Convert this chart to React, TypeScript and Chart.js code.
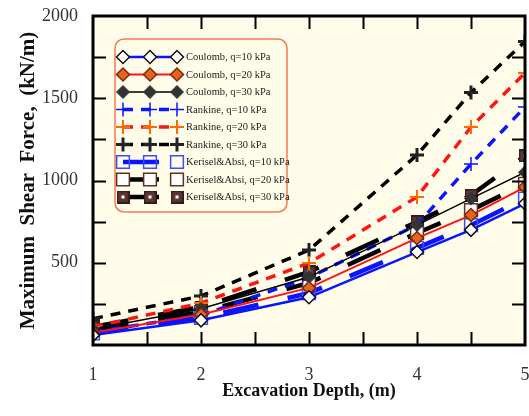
import React, { useEffect, useRef } from 'react';
import { Chart, registerables } from 'chart.js';
import { drawPoint } from 'chart.js/helpers';

Chart.register(...registerables);

// ---- data ----
const depths = [1, 2, 3, 4, 4.5, 5];
const coulomb10 = [60, 150, 290, 565, 700, 860];
const coulomb20 = [75, 185, 347, 650, 790, 960];
const coulomb30 = [95, 220, 413, 729, 890, 1050];
const rankine10 = [80, 180, 410, 730, 1100, 1447];
const rankine20 = [110, 255, 498, 900, 1325, 1653];
const rankine30 = [160, 298, 577, 1155, 1535, 1845];
const kerisel10 = [70, 165, 316, 590, 729, 890];
const kerisel20 = [90, 200, 377, 681, 820, 980];
const kerisel30 = [110, 230, 444, 748, 910, 1150];

const seriesLabels = [
  'Coulomb, q=10 kPa',
  'Coulomb, q=20 kPa',
  'Coulomb, q=30 kPa',
  'Rankine, q=10 kPa',
  'Rankine, q=20 kPa',
  'Rankine, q=30 kPa',
  'Kerisel&Absi, q=10 kPa',
  'Kerisel&Absi, q=20 kPa',
  'Kerisel&Absi, q=30 kPa',
];
const xLabelValues = [1, 2, 3, 4, 5];
const yLabelValues = [500, 1000, 1500, 2000];
const xTitle = 'Excavation Depth, (m)';
const yTitle = 'Maximum  Shear  Force,  (kN/m)';

function makeDarkSquare(): HTMLCanvasElement {
  const c = document.createElement('canvas');
  c.width = 13;
  c.height = 13;
  const g = c.getContext('2d')!;
  g.fillStyle = '#2e1a1a';
  g.fillRect(0, 0, 13, 13);
  g.fillStyle = '#5e3636';
  g.fillRect(1.5, 1.5, 10, 10);
  g.fillStyle = '#ffffff';
  g.fillRect(5, 5, 3, 3);
  return c;
}

const toPts = (arr: number[]) => arr.map((v, i) => ({ x: depths[i], y: v }));

const BLUE = '#0a14ff';
const RED = '#ff1414';
const BLACK = '#000000';

const bgPlugin = {
  id: 'bgPlugin',
  beforeDraw(chart: any) {
    const { ctx, chartArea } = chart;
    ctx.save();
    ctx.fillStyle = '#ffffff';
    ctx.fillRect(0, 0, chart.width, chart.height);
    ctx.fillStyle = '#fffde9';
    ctx.fillRect(chartArea.left, chartArea.top, chartArea.right - chartArea.left, chartArea.bottom - chartArea.top);
    ctx.restore();
  },
};

const framePlugin = {
  id: 'framePlugin',
  afterDraw(chart: any) {
    const { ctx, chartArea } = chart;
    const { left, right, top, bottom } = chartArea;
    const xs = chart.scales.x;
    const ys = chart.scales.y;
    ctx.save();
    ctx.strokeStyle = '#000';
    ctx.lineWidth = 2;
    const tl = 13;
    for (let v = 1.5; v < 5; v += 0.5) {
      const px = Math.round(xs.getPixelForValue(v)) + 0.5;
      ctx.beginPath();
      ctx.moveTo(px, bottom);
      ctx.lineTo(px, bottom - tl);
      ctx.moveTo(px, top);
      ctx.lineTo(px, top + tl);
      ctx.stroke();
    }
    for (let v = 250; v < 2000; v += 250) {
      const py = Math.round(ys.getPixelForValue(v)) + 0.5;
      ctx.beginPath();
      ctx.moveTo(left, py);
      ctx.lineTo(left + tl, py);
      ctx.moveTo(right, py);
      ctx.lineTo(right - tl, py);
      ctx.stroke();
    }
    ctx.lineWidth = 3;
    ctx.strokeRect(left, top, right - left, bottom - top);
    ctx.restore();
  },
};

const legendPlugin = {
  id: 'customLegend',
  afterDraw(chart: any) {
    const { ctx } = chart;
    ctx.save();
    const bx = 115, by = 39, bw = 172, bh = 173;
    ctx.beginPath();
    ctx.roundRect(bx, by, bw, bh, 9);
    ctx.fillStyle = '#fffde9';
    ctx.fill();
    ctx.lineWidth = 1.5;
    ctx.strokeStyle = '#f57a52';
    ctx.stroke();

    const xs = [123, 150, 177];
    const y0 = 57;
    const dy = 17.5;
    chart.data.datasets.forEach((ds: any, i: number) => {
      const y = y0 + i * dy;
      ctx.save();
      ctx.strokeStyle = ds.borderColor;
      ctx.lineWidth = ds.borderWidth;
      ctx.setLineDash(ds.borderDash || []);
      ctx.lineDashOffset = 0;
      ctx.beginPath();
      ctx.moveTo(xs[0], y);
      ctx.lineTo(xs[2], y);
      ctx.stroke();
      ctx.restore();
      xs.forEach((x) => {
        ctx.save();
        ctx.fillStyle = ds.pointBackgroundColor;
        ctx.strokeStyle = ds.pointBorderColor;
        ctx.lineWidth = ds.pointBorderWidth;
        drawPoint(ctx, {
          pointStyle: ds.pointStyle,
          radius: ds.pointRadius,
          borderWidth: ds.pointBorderWidth,
          rotation: 0,
        } as any, x, y);
        ctx.restore();
      });
      ctx.fillStyle = '#1a1a1a';
      ctx.font = '10.5px "Liberation Serif"';
      ctx.textBaseline = 'middle';
      ctx.textAlign = 'left';
      ctx.fillText(ds.label, 186, y + 0.5);
    });
    ctx.restore();
  },
};

export default function App() {
  const ref = useRef<HTMLCanvasElement | null>(null);
  useEffect(() => {
    if (!ref.current) return;
    const darkSquare = makeDarkSquare();
    const chart = new Chart(ref.current, {
      type: 'line',
      data: {
        datasets: [
          {
            label: seriesLabels[0], data: toPts(coulomb10),
            borderColor: BLUE, borderWidth: 2.5,
            pointStyle: 'rectRot', pointRadius: 6.5, pointBackgroundColor: '#ffffff', pointBorderColor: '#111', pointBorderWidth: 1.5,
          },
          {
            label: seriesLabels[1], data: toPts(coulomb20),
            borderColor: RED, borderWidth: 2,
            pointStyle: 'rectRot', pointRadius: 6.5, pointBackgroundColor: '#e8641e', pointBorderColor: '#7a2a0a', pointBorderWidth: 1.5,
          },
          {
            label: seriesLabels[2], data: toPts(coulomb30),
            borderColor: BLACK, borderWidth: 1.5,
            pointStyle: 'rectRot', pointRadius: 6.5, pointBackgroundColor: '#333333', pointBorderColor: '#333333', pointBorderWidth: 1,
          },
          {
            label: seriesLabels[3], data: toPts(rankine10),
            borderColor: BLUE, borderWidth: 3.5, borderDash: [10, 8],
            pointStyle: 'cross', pointRadius: 7, pointBackgroundColor: BLUE, pointBorderColor: BLUE, pointBorderWidth: 1.5,
          },
          {
            label: seriesLabels[4], data: toPts(rankine20),
            borderColor: RED, borderWidth: 3.5, borderDash: [10, 8],
            pointStyle: 'cross', pointRadius: 7, pointBackgroundColor: '#ff6a00', pointBorderColor: '#ff6a00', pointBorderWidth: 2,
          },
          {
            label: seriesLabels[5], data: toPts(rankine30),
            borderColor: BLACK, borderWidth: 3.5, borderDash: [10, 8],
            pointStyle: 'cross', pointRadius: 7, pointBackgroundColor: '#222', pointBorderColor: '#222', pointBorderWidth: 3,
          },
          {
            label: seriesLabels[6], data: toPts(kerisel10),
            borderColor: BLUE, borderWidth: 4.5, borderDash: [36, 30],
            pointStyle: 'rect', pointRadius: 9, pointBackgroundColor: 'rgba(0,0,0,0)', pointBorderColor: '#3a4cff', pointBorderWidth: 1.5,
          },
          {
            label: seriesLabels[7], data: toPts(kerisel20),
            borderColor: BLACK, borderWidth: 4.5, borderDash: [36, 30],
            pointStyle: 'rect', pointRadius: 9, pointBackgroundColor: '#ffffff', pointBorderColor: '#5a3420', pointBorderWidth: 1.5,
          },
          {
            label: seriesLabels[8], data: toPts(kerisel30),
            borderColor: BLACK, borderWidth: 4.5, borderDash: [36, 30],
            pointStyle: darkSquare, pointRadius: 7, pointBackgroundColor: '#5e3636', pointBorderColor: '#2e1a1a', pointBorderWidth: 1,
          },
        ] as any,
      },
      options: {
        animation: false,
        responsive: false,
        layout: { autoPadding: false, padding: { top: 16, right: 4, left: 0, bottom: 0 } },
        plugins: { legend: { display: false }, tooltip: { enabled: false } },
        elements: { line: { tension: 0, fill: false } },
        scales: {
          x: {
            type: 'linear',
            min: 1,
            max: 5,
            grid: { display: false, drawTicks: false },
            border: { display: false },
            ticks: {
              stepSize: 0.5,
              autoSkip: false,
              maxRotation: 0,
              padding: 19,
              color: '#333',
              font: { family: '"Liberation Serif"', size: 18 },
              callback: (v: any) => (xLabelValues.includes(Number(v)) ? String(v) : ''),
            },
            title: {
              display: true,
              text: xTitle,
              color: '#111',
              font: { family: '"Liberation Serif"', size: 18, weight: 'bold' },
              padding: { top: 0, bottom: 14 },
            },
            afterFit: (s: any) => { s.height = 71; s.paddingLeft = 0; s.paddingRight = 0; },
          },
          y: {
            min: 0,
            max: 2000,
            grid: { display: false, drawTicks: false },
            border: { display: false },
            ticks: {
              stepSize: 250,
              autoSkip: false,
              padding: 15,
              color: '#333',
              font: { family: '"Liberation Serif"', size: 18 },
              callback: (v: any) => (yLabelValues.includes(Number(v)) ? String(v) : ''),
            },
            title: {
              display: true,
              text: yTitle,
              color: '#111',
              font: { family: '"Liberation Serif"', size: 21, weight: 'bold' },
              padding: { top: 16, bottom: 0 },
            },
            afterFit: (s: any) => { s.width = 93; s.paddingTop = 0; s.paddingBottom = 0; },
          },
        },
      } as any,
      plugins: [bgPlugin, framePlugin, legendPlugin],
    });
    return () => chart.destroy();
  }, []);

  return (
    <div style={{ position: 'absolute', left: 0, top: 0, width: 529, height: 416 }}>
      <canvas ref={ref} width={529} height={416} />
    </div>
  );
}
